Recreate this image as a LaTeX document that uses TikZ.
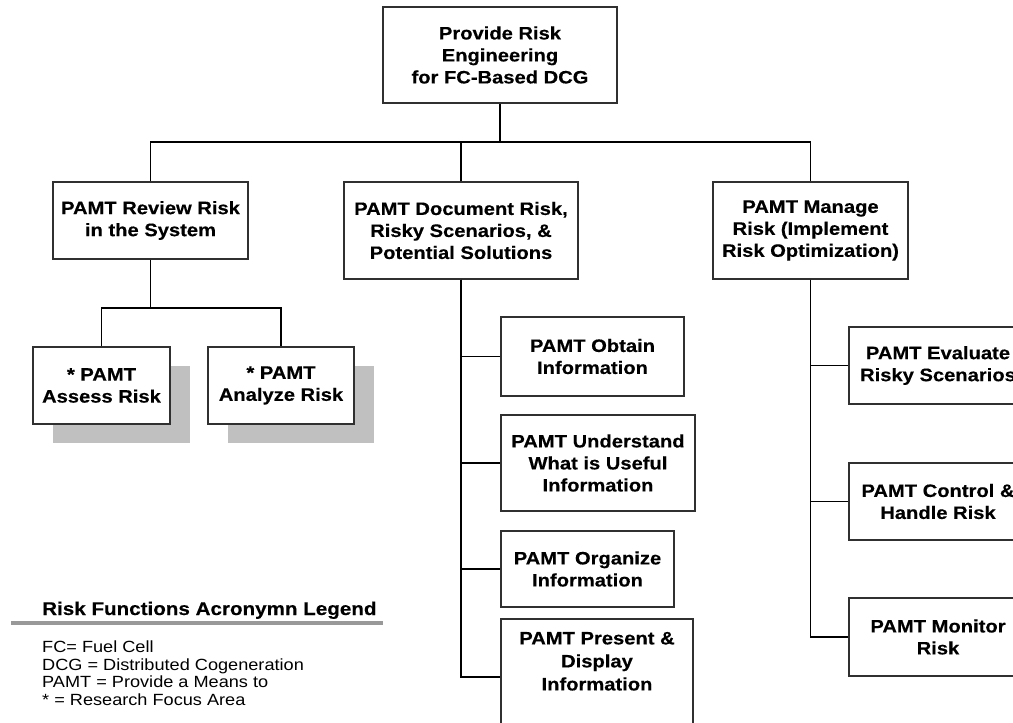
\documentclass[tikz,border=0pt]{standalone}
\usepackage{fontspec}
\setmainfont[FakeStretch=1.12, BoldFeatures={FakeBold=0.35}]{Liberation Sans}
\usetikzlibrary{shadows}
\definecolor{shade}{HTML}{C0C0C0}
\definecolor{rulegray}{HTML}{999999}
\definecolor{edge}{HTML}{303030}
\newcommand\boxfont{\fontsize{18}{22}\selectfont\bfseries}
\newcommand\legendtitlefont{\fontsize{18.4}{22}\selectfont\bfseries}
\newcommand\legendfont{\fontsize{16.2}{17.5}\selectfont}
\begin{document}
\begin{tikzpicture}[x=1pt,y=-1pt,
  box/.style={draw=edge, line width=1.4pt, fill=white, inner sep=0pt,
    align=center, font=\boxfont},
  focus/.style={box, drop shadow={opacity=1, fill=shade,
    shadow xshift=20pt, shadow yshift=-19pt}},
  wire/.style={draw=black, line width=1.1pt},
]
\clip (0,0) rectangle (1013,723);

% root
\node[box, line width=2.2pt, minimum width=234, minimum height=96] (top) at (500,55)
  {Provide Risk\\Engineering\\for FC-Based DCG};

% second level
\node[box, minimum width=195, minimum height=77] (review) at (150.5,220.5)
  {PAMT Review Risk\\in the System};
\node[box, minimum width=234, minimum height=97] (document) at (461,230.5)
  {PAMT Document Risk,\\Risky Scenarios, \&\\Potential Solutions};
\node[box, minimum width=195, minimum height=97] (manage) at (810.5,230.5)
  {PAMT Manage\\Risk (Implement\\Risk Optimization)};

% research focus areas
\node[focus, minimum width=137, minimum height=77] (assess) at (101.5,385.5)
  {* PAMT\\Assess Risk};
\node[focus, minimum width=146, minimum height=77] (analyze) at (281,385.5)
  {* PAMT\\Analyze Risk};

% documentation branch
\node[box, minimum width=183, minimum height=79] (obtain) at (592.5,356.5)
  {PAMT Obtain\\Information};
\node[box, minimum width=194, minimum height=96] (understand) at (598,463)
  {PAMT Understand\\What is Useful\\Information};
\node[box, minimum width=173, minimum height=76] (organize) at (587.5,569)
  {PAMT Organize\\Information};
\node[box, minimum width=192, minimum height=116] (present) at (597,677)
  {\raisebox{14pt}[\height][\depth]{\begin{tabular}{@{}c@{}}PAMT Present \&\\[1pt]Display\\[1pt]Information\end{tabular}}};

% management branch
\node[box, minimum width=178, minimum height=77] (evaluate) at (938,365.5)
  {PAMT Evaluate\\Risky Scenarios};
\node[box, minimum width=178, minimum height=77] (control) at (938,501.5)
  {PAMT Control \&\\Handle Risk};
\node[box, minimum width=178, minimum height=78] (monitor) at (938,637)
  {PAMT Monitor\\Risk};

% connectors
\coordinate (bar) at (0,142);
\coordinate (subbar) at (0,308);
\draw[wire] (top.south) -- (top.south |- bar);
\draw[wire] (review.north) |- (manage.north |- bar) -- (manage.north);
\draw[wire] (document.north) -- (document.north |- bar);
\draw[wire] (review.south) -- (review.south |- subbar);
\draw[wire] (assess.north) |- (analyze.north |- subbar) -- (analyze.north);
\draw[wire] (document.south) |- (obtain.west);
\draw[wire] (document.south) |- (understand.west);
\draw[wire] (document.south) |- (organize.west);
\draw[wire] (document.south) |- (present.west);
\draw[wire] (manage.south) |- (evaluate.west);
\draw[wire] (manage.south) |- (control.west);
\draw[wire] (manage.south) |- (monitor.west);

% legend
\node[anchor=base west, inner sep=0pt, font=\legendtitlefont] (legend) at (42,615)
  {Risk Functions Acronymn Legend};
\draw[rulegray, line width=4pt] (11,623) -- (383,623);
\node[anchor=north west, inner sep=0pt, align=left, font=\legendfont] (defs) at (42,641)
  {FC= Fuel Cell\\DCG = Distributed Cogeneration\\PAMT = Provide a Means to\\* = Research Focus Area};
\end{tikzpicture}
\end{document}
